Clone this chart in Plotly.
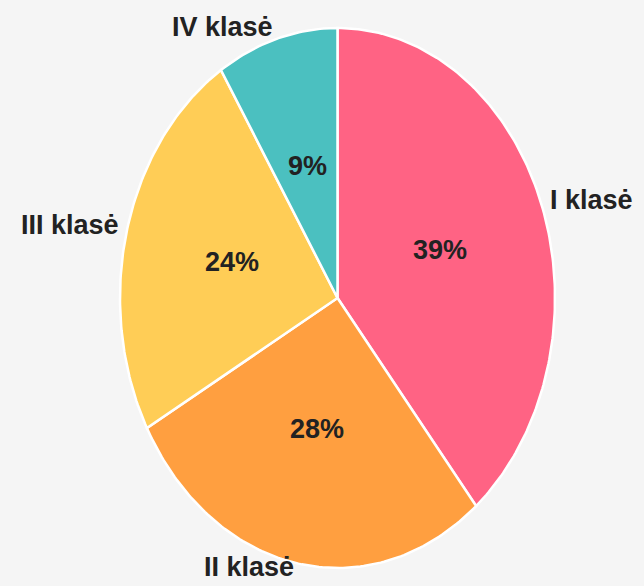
import numpy as np
import plotly.graph_objects as go

categories = ["I klasė", "II klasė", "III klasė", "IV klasė"]
values = [39, 28, 24, 9]
pct_labels = ["39%", "28%", "24%", "9%"]
colors = ["#FF6384", "#FF9F40", "#FFCD56", "#4BC0C0"]

W, H = 644, 586
cx, cy, rx, ry = 337.5, 298.0, 217.5, 270.0

fig = go.Figure()
total = float(sum(values))
start = 0.0
mids = []
for cat, v, col in zip(categories, values, colors):
    a0 = start / total * 2 * np.pi
    a1 = (start + v) / total * 2 * np.pi
    t = np.linspace(a0, a1, max(int(v * 4), 8))
    xs = np.concatenate([[0.0], np.sin(t), [0.0]])
    ys = np.concatenate([[0.0], np.cos(t), [0.0]])
    fig.add_trace(go.Scatter(x=xs, y=ys, mode="lines", fill="toself",
                             fillcolor=col, line=dict(color="white", width=2.5),
                             name=cat, hoverinfo="skip", showlegend=False))
    mids.append((a0 + a1) / 2)
    start += v

font_family = "Liberation Sans Narrow, Arial Narrow, Liberation Sans, Arial, sans-serif"
for cat, pl, m in zip(categories, pct_labels, mids):
    fig.add_annotation(x=0.5 * np.sin(m), y=0.5 * np.cos(m), text=f"<b>{pl}</b>",
                       showarrow=False, xanchor="center", yanchor="middle", yshift=2,
                       font=dict(family=font_family, size=27, color="#222222"))
    r = 1.03
    fig.add_annotation(x=r * np.sin(m), y=r * np.cos(m), text=f"<b>{cat}</b>",
                       showarrow=False,
                       xanchor="left" if np.sin(m) > 0 else "right",
                       yanchor="middle", yshift=4,
                       font=dict(family=font_family, size=27, color="#222222"))

fig.update_layout(
    width=W, height=H,
    margin=dict(l=0, r=0, t=0, b=0),
    paper_bgcolor="#f5f5f5", plot_bgcolor="#f5f5f5",
    xaxis=dict(range=[(0 - cx) / rx, (W - cx) / rx], visible=False, fixedrange=True),
    yaxis=dict(range=[(cy - H) / ry, cy / ry], visible=False, fixedrange=True),
    showlegend=False,
)
fig.write_html("out.html", config={"displayModeBar": False},
               post_script="document.body.style.margin='0';document.body.style.background='#f5f5f5';")
